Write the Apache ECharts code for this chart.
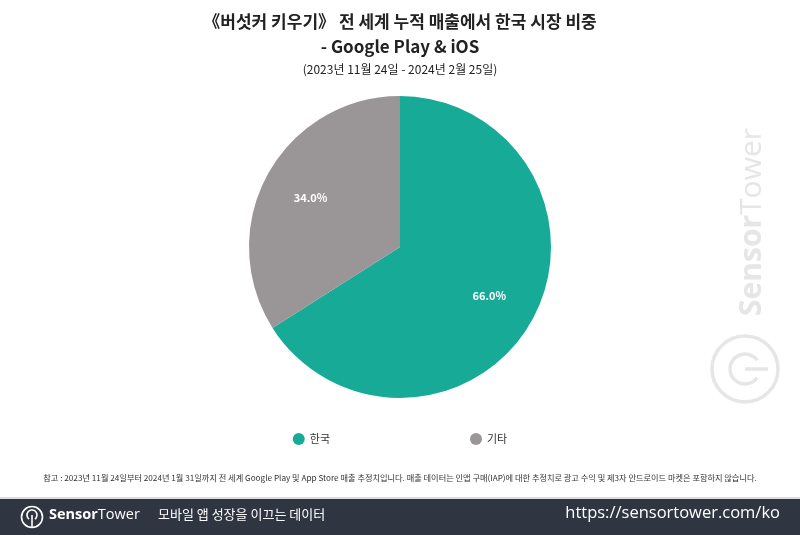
<!DOCTYPE html>
<html><head><meta charset="utf-8">
<script src="https://cdn.jsdelivr.net/npm/echarts@6/dist/echarts.min.js"></script>
<style>html,body{margin:0;padding:0;background:#fff}#c{width:800px;height:535px}</style>
</head><body><div id="c"></div>
<script>
const categories = ['한국', '기타'];
const shares = [66.0, 34.0];
const colors = ['#17ab97', '#9a9697'];
const titleText = '《버섯커 키우기》 전 세계 누적 매출에서 한국 시장 비중';
const titleLine2 = '- Google Play & iOS';
const subtitleText = '(2023년 11월 24일 - 2024년 2월 25일)';
const noteText = '참고 : 2023년 11월 24일부터 2024년 1월 31일까지 전 세계 Google Play 및 App Store 매출 추정치입니다. 매출 데이터는 인앱 구매(IAP)에 대한 추정치로 광고 수익 및 제3자 안드로이드 마켓은 포함하지 않습니다.';

const F = '"Noto Sans CJK KR", "Noto Sans", sans-serif';
const O = '"Open Sans", sans-serif';
const WM = '#e6e6e6';
const data = categories.map((n, i) => ({ name: n, value: shares[i], itemStyle: { color: colors[i] } }));
const chart = echarts.init(document.getElementById('c'));
chart.setOption({
  animation: false,
  backgroundColor: '#fff',
  legend: {
    data: categories, bottom: 85, left: 'center', icon: 'circle', itemWidth: 12, itemHeight: 12,
    itemGap: 140, textStyle: { fontFamily: F, fontSize: 11, color: '#333' }
  },
  series: [
    {
      type: 'pie', center: [400, 247], radius: [0, 151], startAngle: 90, clockwise: true,
      data: data, label: { show: false }, labelLine: { show: false }, silent: true
    },
    {
      type: 'pie', center: [400, 247], radius: [0, 198], startAngle: 90, clockwise: true, silent: true,
      data: categories.map((n, i) => ({ name: n, value: shares[i], itemStyle: { color: 'rgba(0,0,0,0)' } })),
      label: { show: true, position: 'inside', formatter: p => p.value.toFixed(1) + '%', fontFamily: F, fontSize: 11, fontWeight: 'bold', color: '#fff' },
      labelLine: { show: false }, emphasis: { disabled: true }
    }
  ],
  graphic: [
    // watermark
    { type: 'text', x: 737, y: 316, rotation: Math.PI / 2, z: -1,
      style: { text: '{b|Sensor}{r|Tower}', rich: { b: { font: 'bold 30px ' + O, fill: WM }, r: { font: '30px ' + O, fill: WM } }, verticalAlign: 'top' } },
    { type: 'circle', z: -1, shape: { cx: 745, cy: 369, r: 33 }, style: { fill: 'none', stroke: WM, lineWidth: 3.5 } },
    { type: 'arc', z: -1, shape: { cx: 745, cy: 369, r: 15, startAngle: Math.PI * 0.2, endAngle: Math.PI * 1.8, clockwise: true }, style: { fill: 'none', stroke: WM, lineWidth: 3.5 } },
    { type: 'line', z: -1, shape: { x1: 745, y1: 369, x2: 768, y2: 369 }, style: { stroke: WM, lineWidth: 3.5 } },

    { type: 'text', left: 'center', top: 13, style: { text: titleText, font: 'bold 17px ' + F, fill: '#222' } },
    { type: 'text', left: 'center', top: 38, style: { text: titleLine2, font: 'bold 17px ' + F, fill: '#222' } },
    { type: 'text', left: 'center', top: 63, style: { text: subtitleText, font: '12px ' + F, fill: '#222' } },
    { type: 'text', left: 'center', top: 474, style: { text: noteText, font: '8.2px ' + F, fill: '#333' } },
    { type: 'rect', shape: { x: 0, y: 497, width: 800, height: 2 }, style: { fill: '#dcdcdc' } },
    { type: 'rect', shape: { x: 0, y: 499, width: 800, height: 36 }, style: { fill: '#2f3641' } },
    // footer logo
    { type: 'circle', shape: { cx: 32, cy: 517, r: 10.5 }, style: { fill: 'none', stroke: '#fff', lineWidth: 1.6 } },
    { type: 'arc', shape: { cx: 32, cy: 515, r: 5, startAngle: Math.PI * 0.7, endAngle: Math.PI * 2.3, clockwise: true }, style: { fill: 'none', stroke: '#fff', lineWidth: 1.6 } },
    { type: 'line', shape: { x1: 32, y1: 515, x2: 32, y2: 527 }, style: { stroke: '#fff', lineWidth: 1.6 } },
    { type: 'text', left: 49, top: 507,
      style: { text: '{b|Sensor}{r|Tower}', rich: { b: { font: 'bold 14.5px ' + O, fill: '#fff' }, r: { font: '14.5px ' + O, fill: '#fff' } } } },
    { type: 'text', left: 158, top: 508, style: { text: '모바일 앱 성장을 이끄는 데이터', font: '13px ' + F, fill: '#fff' } },
    { type: 'text', right: 20, top: 505, style: { text: 'https://sensortower.com/ko', font: '16.5px ' + O, fill: '#fff' } }
  ]
});
</script></body></html>
